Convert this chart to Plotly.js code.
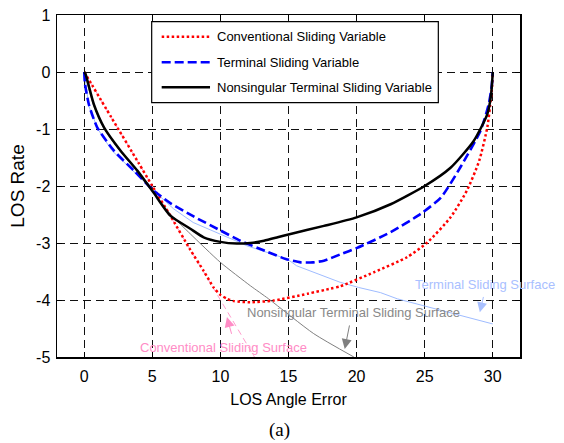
<!DOCTYPE html>
<html>
<head>
<meta charset="utf-8">
<script src="https://cdn.plot.ly/plotly-3.0.1.min.js"></script>
<style>html,body{margin:0;padding:0;background:#fff;}#chart{width:564px;height:443px;}</style>
</head>
<body>
<div id="chart"></div>
<script>
// Conventional sliding variable (red dotted)
const convX = [0, 2, 4, 5, 6.32, 7.79, 8.77, 9.5, 10, 10.5, 11, 12.2, 13.9, 16.4, 18.1, 18.8, 21.3, 23.7, 25.2, 26.9, 28.1, 29.0, 29.6, 29.8, 29.95, 30];
const convY = [0, -0.8, -1.6, -2.0, -2.52, -3.12, -3.49, -3.78, -3.91, -3.98, -4.02, -4.04, -4.01, -3.89, -3.8, -3.76, -3.51, -3.25, -2.99, -2.55, -2.08, -1.56, -0.97, -0.6, -0.25, 0];
// Terminal sliding variable (blue dashed)
const termX = [0, 0.05, 0.34, 0.95, 2.18, 3.65, 5.1, 6.32, 8, 10, 11.46, 13.5, 14.8, 15.9, 16.8, 17.6, 18.8, 20, 22.5, 24.7, 26.2, 27.6, 29.1, 29.7, 29.92, 30];
const termY = [0, -0.2, -0.57, -0.97, -1.38, -1.73, -2.08, -2.3, -2.53, -2.78, -2.96, -3.16, -3.28, -3.34, -3.34, -3.31, -3.2, -3.09, -2.81, -2.49, -2.2, -1.68, -1.03, -0.57, -0.25, 0];
// Nonsingular terminal sliding variable (black solid)
const nonsX = [0, 0.1, 0.71, 1.45, 2.67, 3.9, 5.1, 6.32, 7.79, 8.77, 10, 11.2, 12.2, 13.2, 14.2, 15, 17.6, 20, 22.5, 25, 26.9, 28.6, 29.6, 29.88, 30];
const nonsY = [0, -0.04, -0.57, -0.97, -1.38, -1.73, -2.12, -2.52, -2.75, -2.9, -2.98, -3.01, -3.0, -2.96, -2.9, -2.85, -2.7, -2.55, -2.32, -2.0, -1.68, -1.21, -0.74, -0.39, 0];
// Sliding surfaces (thin lines)
const convSurfX = [0, 12.5];
const convSurfY = [0, -5];
const termSurfX = [0, 0.34, 1, 2, 3.65, 5, 6.56, 8, 11.5, 11.95, 14.9, 15.6, 18.8, 20.15, 21.75, 23, 30];
const termSurfY = [0, -0.6, -1.0, -1.37, -1.75, -2.06, -2.4, -2.64, -3.0, -3.05, -3.28, -3.4, -3.69, -3.78, -3.87, -3.98, -4.42];
const nonsSurfX = [0, 0.71, 1.45, 2.67, 3.9, 5.1, 6.32, 7.79, 10, 12.2, 13.54, 16.85, 19.8];
const nonsSurfY = [0, -0.6, -0.99, -1.40, -1.75, -2.12, -2.49, -2.84, -3.34, -3.75, -3.98, -4.59, -5.0];

const xTicks = [0, 5, 10, 15, 20, 25, 30];
const yTicks = [-5, -4, -3, -2, -1, 0, 1];
const seriesNames = ['Conventional Sliding Variable', 'Terminal Sliding Variable', 'Nonsingular Terminal Sliding Variable'];
const surfaceLabels = ['Conventional Sliding Surface', 'Terminal Sliding Surface', 'Nonsingular Terminal Sliding Surface'];

const sans = 'Liberation Sans, Arial, Helvetica, sans-serif';

const redDot = {color: '#ff0000', width: 2.5, dash: '2.5px,2.5px'};
const blueDash = {color: '#0000ff', width: 2.6, dash: '9px,4px'};
const blackSolid = {color: '#000000', width: 2.5};
const sm = {shape: 'spline', smoothing: 0.6};

const traces = [
  {x: convSurfX, y: convSurfY, mode: 'lines', line: {color: '#ff9ccc', width: 1, dash: '6px,4px'}, showlegend: false, hoverinfo: 'skip'},
  {x: termSurfX, y: termSurfY, mode: 'lines', line: {color: '#9fbcff', width: 1}, showlegend: false, hoverinfo: 'skip'},
  {x: nonsSurfX, y: nonsSurfY, mode: 'lines', line: Object.assign({color: '#808080', width: 1}, sm), showlegend: false, hoverinfo: 'skip'},
  {x: convX, y: convY, mode: 'lines', name: seriesNames[0], line: Object.assign({}, sm, redDot), showlegend: false},
  {x: termX, y: termY, mode: 'lines', name: seriesNames[1], line: Object.assign({}, sm, blueDash), showlegend: false},
  {x: nonsX, y: nonsY, mode: 'lines', name: seriesNames[2], line: Object.assign({}, sm, blackSolid), showlegend: false}
];

// manual legend (paper coords)
const lg = {x0: 0.2045, x1: 0.8236, y0: 0.7436, y1: 0.9804, sx0: 0.2261, sx1: 0.3305, tx: 0.3413, rows: [0.9366, 0.8617, 0.7886]};
const legendStyles = [redDot, blueDash, blackSolid];
const shapes = [
  {type: 'rect', xref: 'paper', yref: 'paper', x0: lg.x0, x1: lg.x1, y0: lg.y0, y1: lg.y1, line: {color: '#000', width: 1.2}, fillcolor: '#fff', layer: 'above'}
];
const annotations = [];
legendStyles.forEach((st, i) => {
  shapes.push({type: 'line', xref: 'paper', yref: 'paper', x0: lg.sx0, x1: lg.sx1, y0: lg.rows[i], y1: lg.rows[i], line: st, layer: 'above'});
  annotations.push({xref: 'paper', yref: 'paper', x: lg.tx, y: lg.rows[i], xanchor: 'left', yanchor: 'middle', text: seriesNames[i], showarrow: false, font: {family: sans, size: 13, color: '#000'}});
});

// surface labels
annotations.push({x: 10.21, y: -4.83, text: surfaceLabels[0], showarrow: false, xanchor: 'center', yanchor: 'middle', font: {family: sans, size: 13, color: '#ff8cc6'}});
annotations.push({x: 29.46, y: -3.73, text: surfaceLabels[1], showarrow: false, xanchor: 'center', yanchor: 'middle', font: {family: sans, size: 13, color: '#a9c0ff'}});
annotations.push({x: 19.76, y: -4.215, text: surfaceLabels[2], showarrow: false, xanchor: 'center', yanchor: 'middle', font: {family: sans, size: 13, color: '#888888'}});
// arrows
annotations.push({x: 10.48, y: -4.30, ax: 10.85, ay: -4.62, axref: 'x', ayref: 'y', text: '', showarrow: true, arrowhead: 2, arrowsize: 2, arrowwidth: 1, arrowcolor: '#ff8cc6'});
annotations.push({x: 29.05, y: -4.215, ax: 29.34, ay: -3.92, axref: 'x', ayref: 'y', text: '', showarrow: true, arrowhead: 2, arrowsize: 2, arrowwidth: 1, arrowcolor: '#a9c0ff'});
annotations.push({x: 19.13, y: -4.86, ax: 19.5, ay: -4.42, axref: 'x', ayref: 'y', text: '', showarrow: true, arrowhead: 2, arrowsize: 2, arrowwidth: 1, arrowcolor: '#808080'});
// caption
annotations.push({xref: 'paper', yref: 'paper', x: 0.4816, y: -0.213, xanchor: 'center', yanchor: 'middle', text: '(a)', showarrow: false, font: {family: 'Liberation Serif, Times New Roman, serif', size: 19, color: '#000'}});

const axisCommon = {
  showline: true, mirror: 'ticks', linecolor: '#000', linewidth: 1.5,
  ticks: 'inside', ticklen: 5, tickcolor: '#000', tickwidth: 1,
  showgrid: true, gridcolor: '#111', gridwidth: 1, griddash: '8px,5px',
  zeroline: false, tickfont: {family: sans, size: 16, color: '#000'}
};

const layout = {
  width: 564, height: 443,
  margin: {l: 57, r: 44, t: 15, b: 86},
  paper_bgcolor: '#fff', plot_bgcolor: '#fff',
  showlegend: false,
  xaxis: Object.assign({}, axisCommon, {range: [-2, 32], tickvals: xTicks, ticktext: xTicks.map(String), ticklabelstandoff: 4,
    title: {text: 'LOS Angle Error', font: {family: sans, size: 16, color: '#000'}, standoff: 10}}),
  yaxis: Object.assign({}, axisCommon, {range: [-5, 1], tickvals: yTicks, ticktext: yTicks.map(String), ticklabelstandoff: 2,
    title: {text: 'LOS Rate', font: {family: sans, size: 19, color: '#000'}, standoff: 6}}),
  shapes: shapes,
  annotations: annotations
};

Plotly.newPlot('chart', traces, layout, {staticPlot: true, displayModeBar: false});
</script>
</body>
</html>
